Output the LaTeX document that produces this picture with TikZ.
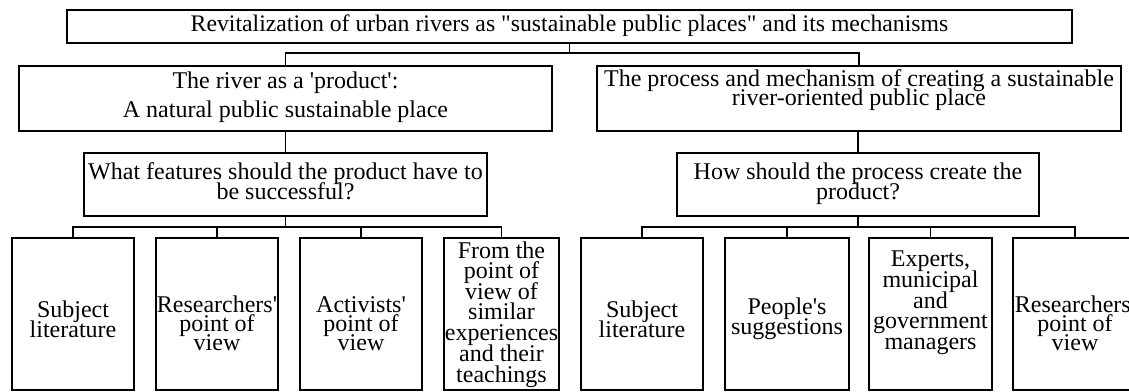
\documentclass[tikz,border=0pt]{standalone}
\usepackage{fontspec}
\setmainfont{Liberation Serif}
\usetikzlibrary{fit}
\newcommand{\mylines}[2]{\vtop{\baselineskip=#1\lineskiplimit=-\maxdimen\lineskip=0pt\halign{\hfil##\hfil\cr#2\crcr}}}
\tikzset{
  box/.style={draw=black, line width=1.4pt, inner sep=0pt, fit={#1}},
  txt/.style={inner sep=0pt, anchor=base, font=\fontsize{18}{20}\selectfont},
  conn/.style={draw=black, line width=1.4pt}
}
\begin{document}
\begin{tikzpicture}[x=0.75pt, y=-0.75pt]
\useasboundingbox (0,0) rectangle (1129,392);
% boxes
\node[box={(67,10) (1072,43)}] (top) {};
\node[box={(19,66) (552,131)}] (L1) {};
\node[box={(597,66) (1121,131)}] (R1) {};
\node[box={(84,153) (487,216)}] (Q1) {};
\node[box={(677,153) (1039,216)}] (Q2) {};
\node[box={(12,238) (134,390)}] (la) {};
\node[box={(156,238) (278,390)}] (lb) {};
\node[box={(300,238) (422,390)}] (lc) {};
\node[box={(444,238) (559,390)}] (ld) {};
\node[box={(581,238) (703,390)}] (ra) {};
\node[box={(725,238) (849,390)}] (rb) {};
\node[box={(869,238) (992,390)}] (rc) {};
\node[box={(1013,238) (1137,390)}] (rd) {};
% texts
\node[txt, font=\fontsize{17.8}{20}\selectfont] (toptext) at (569.5,32) {Revitalization of urban rivers as \textquotedbl sustainable public places\textquotedbl{} and its mechanisms};
\node[txt] (L1text) at (285.5,89) {\mylines{21.75pt}{The river as a \textquotesingle product\textquotesingle:\cr A natural public sustainable place}};
\node[txt] (R1text) at (859,87) {\mylines{14pt}{The process and mechanism of creating a sustainable\cr river-oriented public place}};
\node[txt] (Q1text) at (285.5,180) {\mylines{15pt}{What features should the product have to\cr be successful?}};
\node[txt] (Q2text) at (858,180) {\mylines{15pt}{How should the process create the\cr product?}};
\node[txt] (latext) at (73,317) {\mylines{15pt}{Subject\cr literature}};
\node[txt] (lbtext) at (217,312) {\mylines{14.5pt}{Researchers\textquotesingle\cr point of\cr view}};
\node[txt] (lctext) at (361,312) {\mylines{14.5pt}{Activists\textquotesingle\cr point of\cr view}};
\node[txt] (ldtext) at (501.5,258) {\mylines{15.5pt}{From the\cr point of\cr view of\cr similar\cr experiences\cr and their\cr teachings}};
\node[txt] (ratext) at (642,317) {\mylines{15pt}{Subject\cr literature}};
\node[txt] (rbtext) at (787,315) {\mylines{15pt}{People\textquotesingle s\cr suggestions}};
\node[txt] (rctext) at (930.5,267) {\mylines{15.4pt}{Experts,\cr municipal\cr and\cr government\cr managers}};
\node[txt] (rdtext) at (1075,312) {\mylines{14.5pt}{Researchers\textquotesingle\cr point of\cr view}};
% connectors
\coordinate (j0) at (569.5,53);
\draw[conn] (top.south) -- (j0);
\draw[conn] (L1.north) |- (j0) -| (R1.north);
\draw[conn] (L1.south) -- (Q1.north);
\draw[conn] (Q2.north) -- (Q2.north |- R1.south);
\coordinate (j1) at (285.5,227);
\draw[conn] (Q1.south) -- (j1);
\draw[conn] (la.north) |- (j1) -| (ld.north);
\draw[conn] (lb.north) -- (lb.north |- j1);
\draw[conn] (lc.north) -- (lc.north |- j1);
\coordinate (j2) at (858,227);
\draw[conn] (Q2.south) -- (j2);
\draw[conn] (ra.north) |- (j2) -| (rd.north);
\draw[conn] (rb.north) -- (rb.north |- j2);
\draw[conn] (rc.north) -- (rc.north |- j2);
\end{tikzpicture}
\end{document}
